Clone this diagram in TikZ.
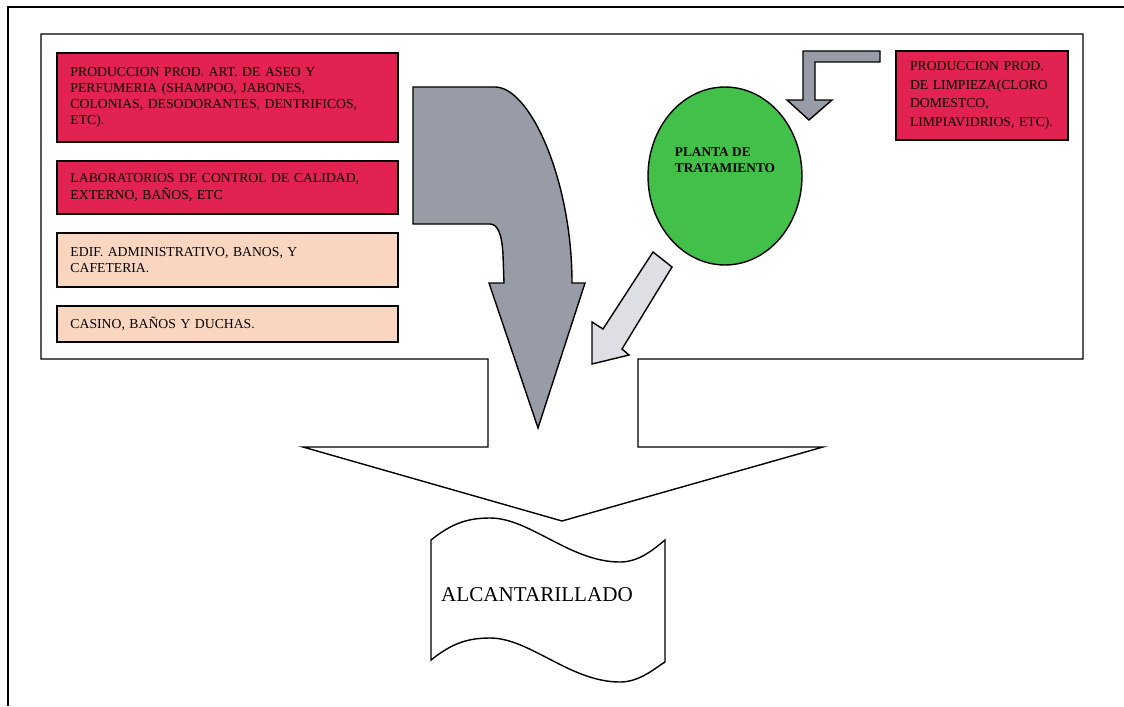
\documentclass[tikz,border=0pt]{standalone}
\usepackage{fontspec}
\setmainfont{Liberation Serif}
\usetikzlibrary{positioning,shapes}
\definecolor{rojo}{RGB}{226,34,80}
\definecolor{crema}{RGB}{250,214,192}
\definecolor{gris}{RGB}{152,156,166}
\definecolor{grisclaro}{RGB}{222,223,228}
\definecolor{verde}{RGB}{66,192,74}
\tikzset{
    %Define standard box look
    caja/.style={
      rectangle,
      draw=black, line width=0.8pt,
      outer sep=0pt,
      minimum width=6.82cm,
      text width=6.28cm,
      inner xsep=0.27cm,
      align=left,
      font=\fontsize{7.8}{9.2}\selectfont},
    redbox/.style={caja, fill=rojo},
    peachbox/.style={caja, fill=crema},
    planta/.style={
      ellipse,
      draw=black, line width=0.8pt,
      fill=verde,
      minimum width=3.08cm,
      minimum height=3.56cm},
    flecha/.style={
      draw=black, line width=0.8pt,
      line join=miter},
}

\begin{document}
\begin{tikzpicture}[x=0.02cm,y=-0.02cm,node distance=0.38cm]
    \useasboundingbox (0,0) rectangle (1124,706);
    % outer frame
    \draw [line width=1pt] (1124,7) -- (8,7) -- (8,706);
    % plant outline with the outlet
    \draw [flecha,fill=white] (41,34) -- (1083,34) -- (1083,359) -- (638,359)
          -- (638,447) -- (823,447) -- (562,521) -- (303,447) -- (488,447)
          -- (488,359) -- (41,359) -- cycle;
    \node (aseo) [redbox,minimum height=1.78cm,anchor=north west] at (57,53)
          {PRODUCCION PROD. ART. DE ASEO Y\\
           PERFUMERIA (SHAMPOO, JABONES,\\
           COLONIAS, DESODORANTES, DENTRIFICOS,\\
           ETC).};
    \node (lab) [redbox,minimum height=1.06cm] [below=of aseo]
          {LABORATORIOS DE CONTROL DE CALIDAD,\\
           EXTERNO, BAÑOS, ETC};
    \node (edif) [peachbox,minimum height=1.08cm] [below=of lab]
          {EDIF. ADMINISTRATIVO, BANOS, Y\\
           CAFETERIA.};
    \node (casino) [peachbox,minimum height=0.72cm] [below=of edif]
          {CASINO, BAÑOS Y DUCHAS.};
    \node (limpieza) [redbox,minimum width=3.44cm,text width=2.88cm,
          minimum height=1.78cm,anchor=north west,
          font=\fontsize{7.8}{10.6}\selectfont] at (896,51)
          {PRODUCCION PROD.\\
           DE LIMPIEZA(CLORO\\
           DOMESTCO,\\
           LIMPIAVIDRIOS, ETC).};
    \node (plant) [planta] at (725,176) {};
    \node (planttxt) [align=left,font=\bfseries\fontsize{7.6}{9.2}\selectfont]
          at ([yshift=0.32cm]plant.center)
          {PLANTA DE\\TRATAMIENTO};
    % big curved arrow
    \draw [flecha,fill=gris] (413,87) -- (495,87)
          .. controls (530,87) and (572,180) .. (572,283)
          -- (585,283) -- (538,428) -- (489,283) -- (504,283) -- (503,255)
          .. controls (502,235) and (498,224) .. (490,224)
          -- (413,224) -- cycle;
    % small bent arrow
    \draw [flecha,fill=gris] (880,51) -- (803,51) -- (803,100) -- (787,100)
          -- (809,120) -- (832,100) -- (815,100) -- (815,62) -- (880,62) -- cycle;
    % arrow out of the plant
    \draw [flecha,fill=grisclaro] (653,252) -- (672,267) -- (622,349) -- (629,355)
          -- (592,364) -- (592,322) -- (603,329) -- cycle;
    % sewer
    \draw [flecha] (431,540) .. controls (450,525) and (465,518) .. (490,518)
          .. controls (530,518) and (570,562) .. (620,562)
          .. controls (640,562) and (655,548) .. (665,540)
          -- (665,662) .. controls (655,668) and (640,682) .. (620,682)
          .. controls (570,682) and (530,638) .. (490,638)
          .. controls (465,638) and (450,645) .. (431,660) -- cycle;
    \node (alcant) [font=\fontsize{12}{14}\selectfont] at (537,595)
          {ALCANTARILLADO};
\end{tikzpicture}
\end{document}
